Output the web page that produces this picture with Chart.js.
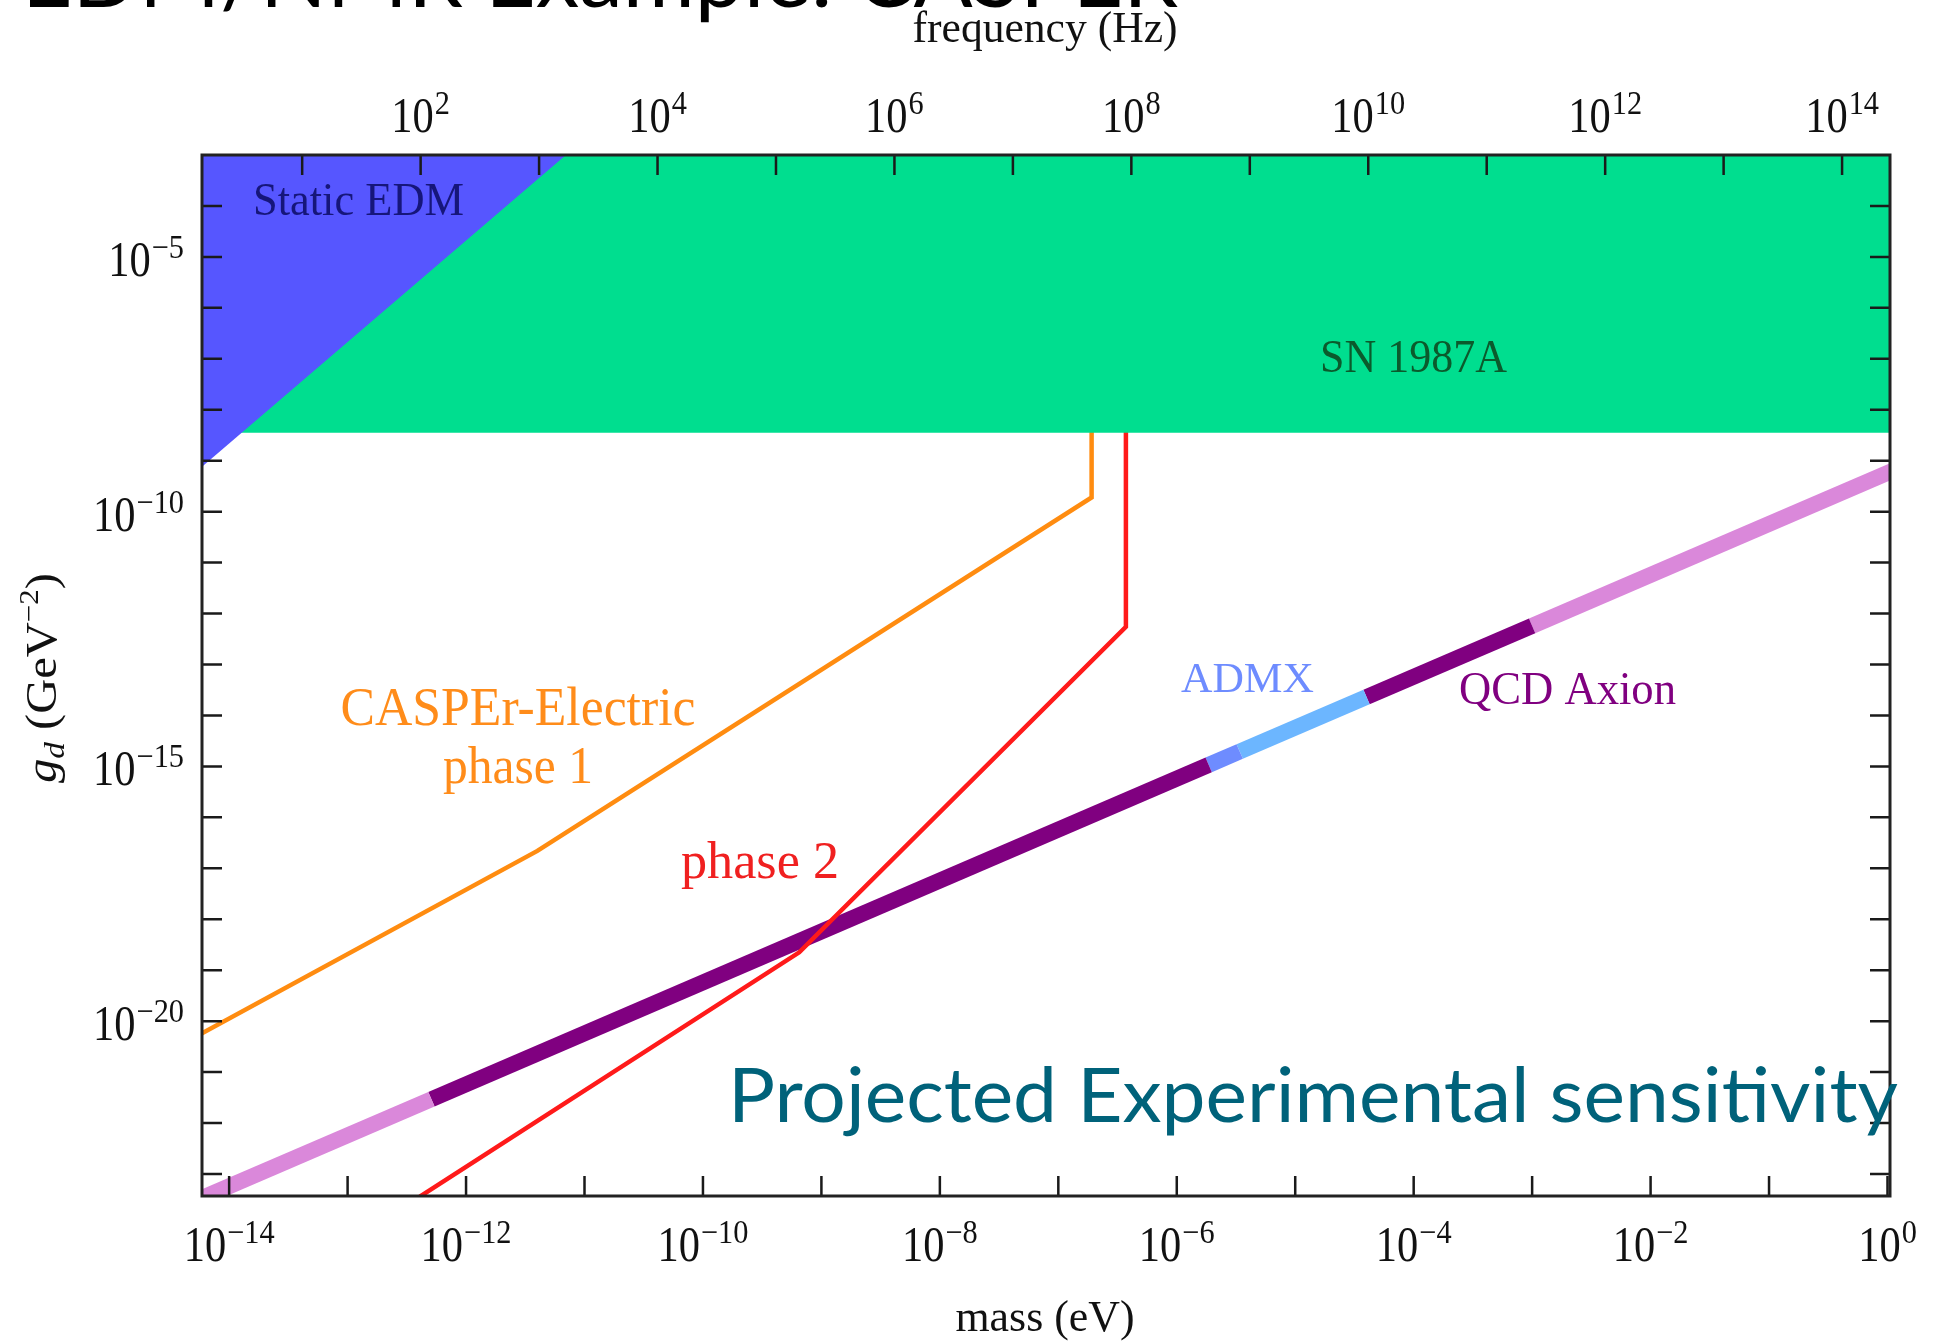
<!DOCTYPE html>
<html>
<head>
<meta charset="utf-8">
<script src="https://cdn.jsdelivr.net/npm/chart.js@4.4.0/dist/chart.umd.min.js"></script>
<style>
  html, body { margin: 0; padding: 0; background: #fff; }
  canvas { display: block; }
</style>
</head>
<body>
<canvas id="chart" width="1934" height="1342"></canvas>
<script>
// axis ranges: mass in eV, coupling g_d in GeV^-2
const massMin = 5.9e-15, massMax = 1.05;
const gMin = 3.7e-24, gMax = 1e-3;
const hzPerEv = 2.418e14;

// tick labels (powers of ten)
const massTicks = [-14, -12, -10, -8, -6, -4, -2, 0];
const freqTicks = [2, 4, 6, 8, 10, 12, 14];
const gTicks = [-5, -10, -15, -20];

// excluded regions
const snMass = [5.9e-15, 1.05];
const snG = [3.52e-9, 3.52e-9];
const edmMass = [5.9e-15, 6.97e-12];
const edmG = [7.6e-10, 1e-3];

// CASPEr-Electric projected sensitivity
const phase1Mass = [5.9e-15, 4.0e-12, 1.91e-7, 1.91e-7];
const phase1G = [5.75e-21, 2.2e-17, 1.9e-10, 1e-3];
const phase2Mass = [4.07e-13, 6.5e-10, 3.72e-7, 3.72e-7];
const phase2G = [3.6e-24, 2.24e-19, 5.5e-13, 1e-3];

// QCD axion band, split where the colour changes
const qcdMass = [1e-15, 5.1e-13, 1.86e-6, 3.4e-6, 4.0e-5, 1e-3, 2];
const qcdG = [5.75e-25, 2.93e-22, 1.07e-15, 1.96e-15, 2.3e-14, 5.75e-13, 1.15e-9];
const qcdColors = ["#da88da", "#800080", "#6e8cff", "#6cb6ff", "#800080", "#da88da"];

const pts = (xs, ys) => xs.map((x, i) => ({ x: x, y: ys[i] }));

const datasets = [];
qcdColors.forEach((c, i) => {
  datasets.push({
    data: pts(qcdMass.slice(i, i + 2), qcdG.slice(i, i + 2)),
    borderColor: c, borderWidth: 16, borderCapStyle: "butt", order: 5
  });
});
datasets.push({ data: pts(phase1Mass, phase1G), borderColor: "#ff8c10", borderWidth: 4.5, order: 4 });
datasets.push({ data: pts(phase2Mass, phase2G), borderColor: "#ff1a1a", borderWidth: 4.5, order: 3 });
datasets.push({ data: pts(snMass, snG), borderColor: "rgba(0,0,0,0)", borderWidth: 0, fill: "end", backgroundColor: "#00de8f", order: 2 });
datasets.push({ data: pts(edmMass, edmG), borderColor: "rgba(0,0,0,0)", borderWidth: 0, fill: "end", backgroundColor: "#5656ff", order: 1 });
datasets.forEach(d => { d.clip = 0; });

const SERIF = '"Liberation Serif", "Times New Roman", serif';

// text squeezed/stretched to a given width
function fitText(ctx, str, x, y, font, color, width, align) {
  ctx.save();
  ctx.font = font;
  ctx.fillStyle = color;
  ctx.textAlign = "left";
  ctx.textBaseline = "alphabetic";
  const w = ctx.measureText(str).width;
  const k = width ? width / w : 1;
  const x0 = align === "center" ? x - w * k / 2 : x;
  ctx.translate(x0, y);
  ctx.scale(k, 1);
  ctx.fillText(str, 0, 0);
  ctx.restore();
}

// 10^n label
function powLabel(ctx, n, x, y, align) {
  const exp = n < 0 ? "\u2212" + (-n) : String(n);
  ctx.save();
  ctx.fillStyle = "#111";
  ctx.textBaseline = "alphabetic";
  ctx.textAlign = "left";
  ctx.font = "50px " + SERIF;
  const wb = ctx.measureText("10").width * 0.85;
  ctx.font = "33px " + SERIF;
  const we = ctx.measureText(exp).width * 0.92;
  const total = wb + 1 + we;
  let x0 = x;
  if (align === "center") x0 = x - total / 2;
  if (align === "right") x0 = x - total;
  ctx.save();
  ctx.translate(x0, y);
  ctx.scale(0.85, 1);
  ctx.font = "50px " + SERIF;
  ctx.fillText("10", 0, 0);
  ctx.restore();
  ctx.save();
  ctx.translate(x0 + wb + 1, y - 18);
  ctx.scale(0.92, 1);
  ctx.font = "33px " + SERIF;
  ctx.fillText(exp, 0, 0);
  ctx.restore();
  ctx.restore();
}

const decor = {
  id: "decor",
  afterDraw(chart) {
    const ctx = chart.ctx;
    const a = chart.chartArea;
    const sx = chart.scales.x, sf = chart.scales.freq, sy = chart.scales.y;
    ctx.save();

    // inward ticks, one per decade
    ctx.strokeStyle = "#1a1a1a";
    ctx.lineWidth = 2.5;
    ctx.beginPath();
    for (let e = -14; e <= 0; e++) {
      const px = sx.getPixelForValue(Math.pow(10, e));
      ctx.moveTo(px, a.bottom); ctx.lineTo(px, a.bottom - 20);
    }
    for (let e = 1; e <= 14; e++) {
      const px = sf.getPixelForValue(Math.pow(10, e));
      ctx.moveTo(px, a.top); ctx.lineTo(px, a.top + 20);
    }
    for (let e = -23; e <= -4; e++) {
      const py = sy.getPixelForValue(Math.pow(10, e));
      ctx.moveTo(a.left, py); ctx.lineTo(a.left + 20, py);
      ctx.moveTo(a.right, py); ctx.lineTo(a.right - 20, py);
    }
    ctx.stroke();
    ctx.lineWidth = 3;
    ctx.strokeStyle = "#222";
    ctx.strokeRect(a.left, a.top, a.right - a.left, a.bottom - a.top);

    // tick labels
    massTicks.forEach(n => powLabel(ctx, n, sx.getPixelForValue(Math.pow(10, n)), 1261, "center"));
    freqTicks.forEach(n => powLabel(ctx, n, sf.getPixelForValue(Math.pow(10, n)), 132, "center"));
    gTicks.forEach(n => powLabel(ctx, n, 184, sy.getPixelForValue(Math.pow(10, n)) + 19, "right"));

    // axis titles
    fitText(ctx, "frequency (Hz)", 1045, 42, "44px " + SERIF, "#111", 265, "center");
    fitText(ctx, "mass (eV)", 1045, 1331, "44px " + SERIF, "#111", 179, "center");

    // y title: g_d (GeV^-2), rotated
    ctx.save();
    ctx.translate(56, 678);
    ctx.rotate(-Math.PI / 2);
    ctx.fillStyle = "#111";
    ctx.textBaseline = "alphabetic";
    const parts = [
      { t: "g", f: "italic 44px " + SERIF, dy: 0 },
      { t: "d", f: "italic 30px " + SERIF, dy: 8 },
      { t: " (GeV", f: "44px " + SERIF, dy: 0 },
      { t: "\u22122", f: "28px " + SERIF, dy: -18 },
      { t: ")", f: "44px " + SERIF, dy: 0 }
    ];
    let tw = 0;
    parts.forEach(p => { ctx.font = p.f; p.w = ctx.measureText(p.t).width; tw += p.w; });
    const ky = 210 / tw;
    ctx.scale(ky, 1);
    let cx = -tw / 2;
    parts.forEach(p => { ctx.font = p.f; ctx.fillText(p.t, cx, p.dy); cx += p.w; });
    ctx.restore();

    // region and curve labels
    fitText(ctx, "Static EDM", 253, 215, "46px " + SERIF, "#16167a", 211);
    fitText(ctx, "SN 1987A", 1320, 372, "46px " + SERIF, "#0b5a2c", 187);
    fitText(ctx, "CASPEr-Electric", 518, 725, "54px " + SERIF, "#ff8c1a", 355, "center");
    fitText(ctx, "phase 1", 518, 783, "52px " + SERIF, "#ff8c1a", 150, "center");
    fitText(ctx, "phase 2", 681, 878, "52px " + SERIF, "#f02020", 158);
    fitText(ctx, "ADMX", 1181, 692, "43px " + SERIF, "#6e8cff", 133);
    fitText(ctx, "QCD Axion", 1459, 704, "47px " + SERIF, "#800080", 217);

    // slide overlays
    fitText(ctx, "Projected Experimental sensitivity", 728, 1122, '76px Lato, "Open Sans", sans-serif', "#00627a", 1170);
    fitText(ctx, "EDM/NMR Example: CASPER", 22, 7, '88px Lato, "Open Sans", sans-serif', "#000", 1156);

    ctx.restore();
  }
};

new Chart(document.getElementById("chart"), {
  type: "line",
  data: { datasets: datasets },
  options: {
    responsive: false,
    animation: false,
    layout: { padding: { left: 202, top: 155, right: 44, bottom: 146 } },
    plugins: { legend: { display: false }, tooltip: { enabled: false } },
    elements: { point: { radius: 0 }, line: { tension: 0 } },
    scales: {
      x: { type: "logarithmic", min: massMin, max: massMax, display: false },
      freq: { type: "logarithmic", axis: "x", position: "top", min: massMin * hzPerEv, max: massMax * hzPerEv, display: false },
      y: { type: "logarithmic", min: gMin, max: gMax, display: false }
    }
  },
  plugins: [decor]
});
</script>
</body>
</html>
